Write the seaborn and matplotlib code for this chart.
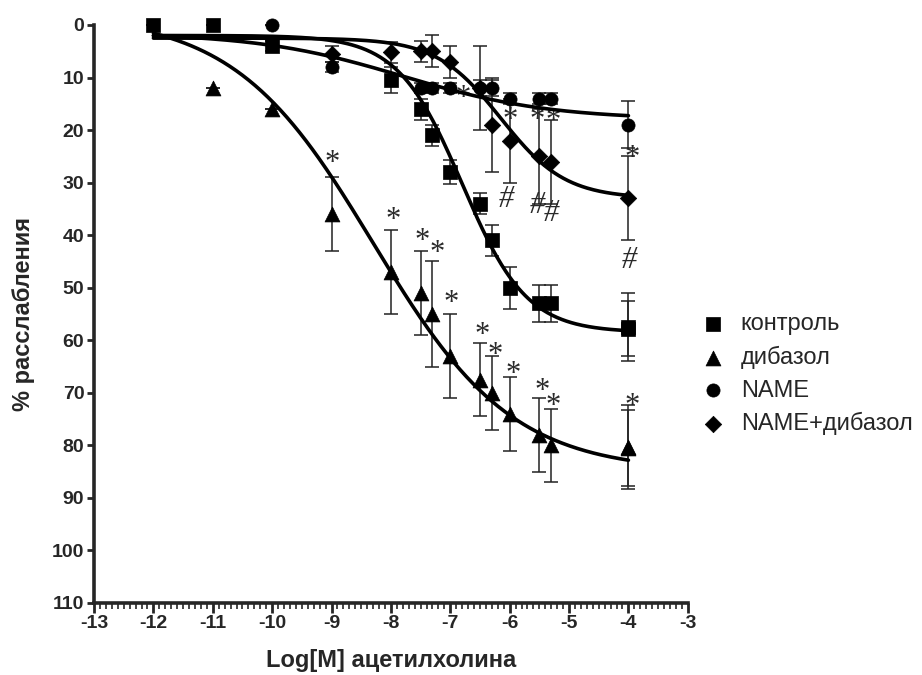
import numpy as np
import pandas as pd
import seaborn as sns
from matplotlib import pyplot as plt
from matplotlib.ticker import MultipleLocator

# --- data ---
ctrl_x = [-12, -11, -10, -8, -7.5, -7.3, -7, -6.5, -6.3, -6, -5.5, -5.3, -4, -4]
ctrl_y = [0, 0, 4, 10.5, 16, 21, 28, 34, 41, 50, 53, 53, 57.5, 57.8]
ctrl_err = [0, 0, 1, 2.5, 2, 2, 2.3, 2, 3, 4, 3.5, 3.5, 6.4, 5.2]

dib_x = [-11, -10, -9, -8, -7.5, -7.3, -7, -6.5, -6.3, -6, -5.5, -5.3, -4, -4]
dib_y = [12, 16, 36, 47, 51, 55, 63, 67.5, 70, 74, 78, 80, 80.3, 80.5]
dib_err = [0, 0, 7, 8, 8, 10, 8, 7, 7, 7, 7, 7, 8, 7.3]

name_x = [-10, -9, -7.5, -7.3, -7, -6.5, -6.3, -6, -5.5, -5.3, -4]
name_y = [0, 8, 12, 12, 12, 12, 12, 14, 14, 14, 19]
name_err = [0, 1, 1, 1, 1, 1.5, 1.5, 1, 1, 1, 4.5]

nd_x = [-9, -8, -7.5, -7.3, -7, -6.5, -6.3, -6, -5.5, -5.3, -4]
nd_y = [5.5, 5.2, 5, 5, 7, 12, 19, 22, 25, 26, 33]
nd_err = [1.5, 2, 2, 3, 3, 8, 9, 8, 9, 8, 8]

# sigmoid fit parameters (top, bottom, logEC50, hill)
fit_ctrl = [2, 58.5, -6.8, 0.8]
fit_dib = [-2, 85, -8.3, 0.37]
fit_name = [1.5, 18, -7.8, 0.35]
fit_nd = [2.5, 33, -6.15, 0.8]

# significance marks
dib_star_x = [-8.99, -7.97, -7.48, -7.23, -6.99, -6.47, -6.25, -5.95, -5.46, -5.27, -3.93]
dib_star_y = [24.8, 35.6, 39.6, 41.9, 51.4, 57.5, 61.3, 65, 68.2, 71, 71]
nd_star_x = [-6.79, -6.0, -5.54, -5.27, -3.93]
nd_star_y = [12.4, 16.6, 16.6, 16.8, 23.8]
hash_x = [-6.05, -5.54, -5.29, -3.98]
hash_y = [33.3, 34.3, 35.8, 44.8]

labels = ['контроль', 'дибазол', 'NAME', 'NAME+дибазол']

sns.set_style('ticks')
plt.rcParams['font.family'] = ['Liberation Sans', 'DejaVu Sans']
plt.rcParams['axes.unicode_minus'] = False

fig = plt.figure(figsize=(9.22, 6.75), dpi=100)
ax = fig.add_axes([0.102, 0.1067, 0.644, 0.8563])

def sigmoid(x, p):
    top, bottom, ec50, h = p
    return top + (bottom - top) / (1 + 10 ** ((ec50 - x) * h))

xs = np.linspace(-12, -4, 300)
series = [
    (ctrl_x, ctrl_y, ctrl_err, fit_ctrl, 's', 95),
    (dib_x, dib_y, dib_err, fit_dib, '^', 115),
    (name_x, name_y, name_err, fit_name, 'o', 90),
    (nd_x, nd_y, nd_err, fit_nd, 'D', 70),
]

for (x, y, e, p, m, s), lab in zip(series, labels):
    ax.errorbar(x, y, yerr=e, fmt='none', ecolor='#222222', elinewidth=1.1,
                capsize=5, capthick=1.1, zorder=2, clip_on=False)
    curve = pd.DataFrame({'x': xs, 'y': sigmoid(xs, p)})
    sns.lineplot(data=curve, x='x', y='y', color='black', lw=2.6, ax=ax,
                 zorder=3, legend=False)
    sns.scatterplot(x=x, y=y, marker=m, s=s, color='black', edgecolor='black',
                    linewidth=0.5, ax=ax, zorder=4, clip_on=False, label=lab)

mark_kw = dict(ha='center', va='center', color='#2a2a2a', fontsize=22,
               family=['Liberation Serif', 'DejaVu Serif'], zorder=1.5)
for sx, sy in zip(dib_star_x + nd_star_x, dib_star_y + nd_star_y):
    ax.text(sx, sy + 1.6, '*', **mark_kw)
for hx, hy in zip(hash_x, hash_y):
    ax.text(hx, hy, '#', style='italic', **mark_kw)

ax.set_xlim(-13, -3)
ax.set_ylim(110, 0)
ax.xaxis.set_major_locator(MultipleLocator(1))
ax.xaxis.set_minor_locator(MultipleLocator(0.1))
ax.yaxis.set_major_locator(MultipleLocator(10))
sns.despine(ax=ax)
for sp in ['left', 'bottom']:
    ax.spines[sp].set_linewidth(2.6)
ax.tick_params(axis='both', which='major', width=2, length=5, labelsize=14,
               pad=2)
ax.tick_params(axis='x', which='major', length=7)
ax.tick_params(axis='x', which='minor', width=1.2, length=4)
for t in ax.get_xticklabels() + ax.get_yticklabels():
    t.set_fontweight('bold')

ax.set_xlabel('Log[M] ацетилхолина', fontsize=17, fontweight='bold', labelpad=12)
ax.set_ylabel('% расслабления', fontsize=17, fontweight='bold', labelpad=12)

ax.legend(loc='upper left', bbox_to_anchor=(0.760, 0.536),
          bbox_transform=fig.transFigure, frameon=False, fontsize=17,
          handlelength=1.0, handletextpad=0.7, labelspacing=0.45,
          borderpad=0, borderaxespad=0)

fig.savefig('out.png', dpi=100)
